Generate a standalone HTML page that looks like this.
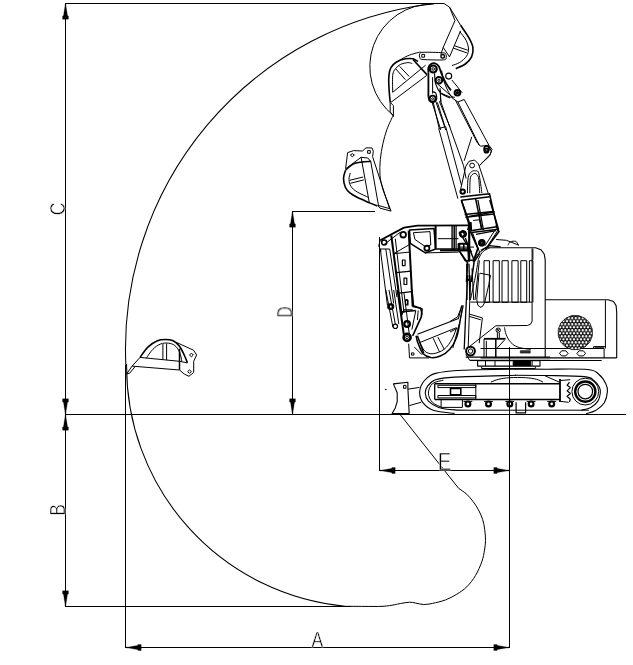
<!DOCTYPE html>
<html><head><meta charset="utf-8"><title>Working range</title>
<style>
html,body{margin:0;padding:0;background:#fff;}
svg{display:block}
text{font-family:"Liberation Sans",sans-serif;fill:#000;stroke:#fff;stroke-width:0.5px;paint-order:fill stroke}
.tx{filter:grayscale(1)}
</style></head><body>
<svg width="633" height="665" viewBox="0 0 633 665">
<rect width="633" height="665" fill="#fff"/>
<g fill="none" stroke="#000" stroke-width="1" stroke-linejoin="round" stroke-linecap="butt">
<path d="M65 3.5H444" stroke-width="1" shape-rendering="crispEdges"/>
<path d="M65.5 3V607" stroke-width="1" shape-rendering="crispEdges"/>
<path d="M65 414.5H626" stroke-width="1" shape-rendering="crispEdges"/>
<path d="M65 606.5H350.5" stroke-width="1" shape-rendering="crispEdges"/>
<path d="M125.5 365V648" stroke-width="1" shape-rendering="crispEdges"/>
<path d="M125 647.5H510" stroke-width="1" shape-rendering="crispEdges"/>
<path d="M509.5 347V648" stroke-width="1" shape-rendering="crispEdges"/>
<path d="M292.5 211V414" stroke-width="1" shape-rendering="crispEdges"/>
<path d="M292 211.5H375" stroke-width="1" shape-rendering="crispEdges"/>
<path d="M379.5 237V471" stroke-width="1" shape-rendering="crispEdges"/>
<path d="M379 470.5H510" stroke-width="1" shape-rendering="crispEdges"/>
<path d="M65.9 4L66.1 7L66.8 11L67.4 15.5L68.4 16L68.4 19.2L62.6 19.2L62.6 16L63.6 15.5L64.2 11L64.9 7L65.1 4Z" stroke-width="0.3" fill="#000"/>
<path d="M65.9 414L66.1 411L66.8 407L67.4 402.5L68.4 402L68.4 398.8L62.6 398.8L62.6 402L63.6 402.5L64.2 407L64.9 411L65.1 414Z" stroke-width="0.3" fill="#000"/>
<path d="M65.9 415L66.1 418L66.8 422L67.4 426.5L68.4 427L68.4 430.2L62.6 430.2L62.6 427L63.6 426.5L64.2 422L64.9 418L65.1 415Z" stroke-width="0.3" fill="#000"/>
<path d="M65.9 606L66.1 603L66.8 599L67.4 594.5L68.4 594L68.4 590.8L62.6 590.8L62.6 594L63.6 594.5L64.2 599L64.9 603L65.1 606Z" stroke-width="0.3" fill="#000"/>
<path d="M126 647.9L129 648.1L133 648.8L137.5 649.4L138 650.4L141.2 650.4L141.2 644.6L138 644.6L137.5 645.6L133 646.2L129 646.9L126 647.1Z" stroke-width="0.3" fill="#000"/>
<path d="M509 647.9L506 648.1L502 648.8L497.5 649.4L497 650.4L493.8 650.4L493.8 644.6L497 644.6L497.5 645.6L502 646.2L506 646.9L509 647.1Z" stroke-width="0.3" fill="#000"/>
<path d="M292.9 212L293.1 215L293.8 219L294.4 223.5L295.4 224L295.4 227.2L289.6 227.2L289.6 224L290.6 223.5L291.2 219L291.9 215L292.1 212Z" stroke-width="0.3" fill="#000"/>
<path d="M292.9 414L293.1 411L293.8 407L294.4 402.5L295.4 402L295.4 398.8L289.6 398.8L289.6 402L290.6 402.5L291.2 407L291.9 411L292.1 414Z" stroke-width="0.3" fill="#000"/>
<path d="M380 470.9L383 471.1L387 471.8L391.5 472.4L392 473.4L395.2 473.4L395.2 467.6L392 467.6L391.5 468.6L387 469.2L383 469.9L380 470.1Z" stroke-width="0.3" fill="#000"/>
<path d="M509 470.9L506 471.1L502 471.8L497.5 472.4L497 473.4L493.8 473.4L493.8 467.6L497 467.6L497.5 468.6L502 469.2L506 469.9L509 470.1Z" stroke-width="0.3" fill="#000"/>
<path d="M125.9 366A347.56 347.56 0 0 1 431.2 4" stroke-width="1.05"/>
<path d="M126.6 364A240.9 240.9 0 0 0 345 606.2" stroke-width="1.05"/>
<path d="M434 4A62.6 62.6 0 0 0 393.6 115.7L392.5 117" stroke-width="1"/>
<path d="M444 3.5L449.5 7.1L460.6 25.3"/>
<path d="M460.6 25.3C461.9 27.3 466.4 33.4 468.5 37.1C470.5 40.8 472.4 44.1 472.9 47.4C473.4 50.7 472.9 54.1 471.6 56.9C470.4 59.6 467.9 62 465.3 64C462.7 66 457.4 67.9 455.8 68.7" stroke-width="1.6"/>
<path d="M459.8 31.6C460.8 33 464.6 37.4 466.1 40.3C467.5 43.2 468.4 46.3 468.5 49C468.5 51.6 468 53.8 466.6 56.1C465.1 58.3 462.2 60.8 459.8 62.4C457.3 64 453.2 65 451.9 65.6"/>
<path d="M449.5 7.1L455 20.5L443.2 47.4L440.8 54.5"/>
<path d="M460.6 30.8L449.5 56.9"/>
<path d="M453.5 48.2L466.9 52.9"/>
<path d="M454.6 45.8L467.8 50.2"/>
<path d="M443.2 47.4L449.5 56.9"/>
<path d="M390.2 102.4C390 100 389.2 92.4 389 87.9C388.7 83.4 388.6 78.6 389 75.3C389.3 71.9 389.6 69.9 390.9 67.7C392.1 65.5 394.1 63.5 396.5 62C399 60.5 402.6 59.4 405.4 58.8C408.1 58.3 410.9 58.4 413 58.8C415.1 59.3 417.2 61 418 61.4" stroke-width="1.6"/>
<path d="M413 59.5L426.9 74.6" stroke-width="1.6"/>
<path d="M392.7 92.3C392.7 89.5 392.3 79.2 392.7 75.3C393.2 71.4 394 70.7 395.3 69C396.5 67.2 398.2 65.6 400.3 64.5C402.4 63.5 405.9 62.8 407.9 62.6C409.9 62.5 411.6 63.5 412.3 63.6"/>
<path d="M392.7 92.3L425.6 65.2"/>
<path d="M390.9 102.4L426.9 75.3"/>
<path d="M395.9 69L405.4 79.7"/>
<path d="M399.7 66.4L409.2 76.5"/>
<path d="M390.2 102.4L393.4 105.6L393.4 116.4L390.2 111.9Z"/>
<path d="M420.6 51.9C418.4 52.5 411.9 54 407.9 55.7C403.9 57.4 398.4 61 396.5 62"/>
<path d="M423.1 52.3C426.9 52.1 438.9 52.4 442.7 52.8C446.5 53.1 445.2 53.6 445.8 54.4C446.4 55.2 446.6 56.7 446.2 57.6C445.8 58.5 447.2 59.5 443.3 59.9C439.4 60.2 427 59.8 423.1 59.5C419.2 59.1 420.5 58.7 419.9 57.8C419.4 56.9 419.1 55 419.7 54C420.2 53.1 419.2 52.5 423.1 52.3Z"/>
<path d="M421.8 54.4L424.6 54.4L424.6 57.2L421.8 57.2Z"/>
<circle cx="442.7" cy="56.3" r="1.8" stroke-width="1.4"/>
<circle cx="433.2" cy="69" r="3.5" stroke-width="2.2"/>
<circle cx="433.2" cy="69" r="1.3"/>
<circle cx="438.9" cy="80.3" r="3.3" stroke-width="2"/>
<circle cx="438.9" cy="80.3" r="1.1"/>
<path d="M428.4 72.7L428.4 96.8" stroke-width="1.8"/>
<path d="M432.6 77.2L432.6 93.6"/>
<circle cx="432.6" cy="98.7" r="3" stroke-width="1.8"/>
<circle cx="432.6" cy="98.7" r="1"/>
<path d="M431.9 101.8L440.8 130"/>
<path d="M435.7 101.2L445.8 130"/>
<path d="M439.3 101.2L450 127.1"/>
<circle cx="448.7" cy="76.1" r="3" stroke-width="1.1"/>
<circle cx="457.4" cy="92.7" r="2.8" stroke-width="2"/>
<circle cx="457.4" cy="92.7" r="0.9" stroke-width="1.5"/>
<path d="M441.6 70.5C442 72.4 442.5 77.5 444 81.6C445.4 85.7 448.4 92.4 450.3 95C452.1 97.7 454.2 97 455 97.4"/>
<path d="M451.9 80L462.1 92.7"/>
<path d="M440 87.9L440.8 102.1"/>
<path d="M437.6 84L452.7 97.4"/>
<circle cx="486.6" cy="148.7" r="2.5" stroke-width="1.6"/>
<path d="M480.8 164L489.5 156.1L491.4 151.3L488.7 145.8"/>
<path d="M460.3 190.8L465.8 166.3L469 161.3L474.5 160L478.5 164L488.2 193.2"/>
<path d="M469.8 193.2C469.8 190.8 469.8 182.1 470.2 179C470.6 175.9 471.4 175.6 472.1 174.7C472.9 173.8 474 173.4 474.8 173.4C475.7 173.5 476.5 174.1 477.2 175C477.8 175.9 478.3 175.9 478.8 179C479.2 182 479.6 190.8 479.7 193.2"/>
<path d="M467.4 193.2C467.5 190.6 467.5 180.9 468.2 177.4C468.8 173.8 470.2 173 471.3 171.9C472.5 170.8 474.1 170.5 475.3 170.8C476.5 171 477.7 169.7 478.8 173.4C479.9 177.2 481.4 189.9 481.9 193.2"/>
<circle cx="472.1" cy="165.5" r="2.4"/>
<circle cx="462.7" cy="191.6" r="2.2" stroke-width="2"/>
<path d="M460.3 197.1L489.5 193.7L497.4 228.7" stroke-width="1.5"/>
<path d="M461.4 200.3L489.8 196.7" stroke-width="1.5"/>
<path d="M461.4 200.3L469 224.8" stroke-width="1.5"/>
<path d="M464.7 214.5L493 211.4" stroke-width="1.5"/>
<path d="M465.5 217.2L493.6 214" stroke-width="1.5"/>
<path d="M475.6 198.7L481.6 227.9" stroke-width="1.5"/>
<path d="M469 224.8L467.4 230"/>
<path d="M461.3 200L469.2 222.1" stroke-width="1.5"/>
<path d="M489.8 200L498.5 229.2" stroke-width="1.5"/>
<path d="M469.2 216.6L494.5 211.8" stroke-width="1.5"/>
<path d="M471.6 232.4L498.5 229.2" stroke-width="1.5"/>
<path d="M477.9 200L483.4 230" stroke-width="1.3"/>
<path d="M473.2 220.5L479.5 219.7L481.4 229.2"/>
<path d="M498.5 229.2L487.4 246.6L477.9 253.7L474 260"/>
<path d="M494.5 230.8L485 245.8"/>
<path d="M472.4 232.4L479.5 252.1"/>
<circle cx="481.9" cy="242.7" r="2.8" stroke-width="2"/>
<circle cx="481.9" cy="242.7" r="0.9"/>
<circle cx="462.1" cy="234.4" r="2.2" stroke-width="1.3"/>
<path d="M469.2 222.1L469.2 260" stroke-width="2.2"/>
<path d="M465.3 237.9L474 260" stroke-width="1.4"/>
<path d="M459 231.6L471.6 252.1" stroke-width="1.2"/>
<path d="M459.7 243.4L467.6 243.4L467.6 250.6L459.7 250.6Z" stroke-width="1.2"/>
<path d="M463.7 243.4L463.7 250.6"/>
<path d="M459.7 247.1L474 247.1"/>
<path d="M459 250.6L465.3 260.8L474 260" stroke-width="1.3"/>
<path d="M496.1 239.5L506.4 240.3L519 245.3"/>
<path d="M507.9 245.3C508.3 244.8 509 242.5 510.3 241.9C511.6 241.2 514.5 240.9 515.8 241.4C517.1 241.9 517.8 244.4 518.2 245"/>
<path d="M380.3 240.3L404 227.6L417.4 225.7L470 225.3" stroke-width="1.8"/>
<path d="M380.3 240.3L378.7 245.8L381.1 251.3"/>
<path d="M409.5 230L434 228.4L435.6 249L425.3 252.9L410.3 243.4Z" stroke-width="1.5"/>
<path d="M413.4 232.7L430 231.6L430.8 245L425.3 246.6L415 239.5Z"/>
<path d="M435.6 225.3L435.6 249" stroke-width="2"/>
<path d="M435.6 249L470 249" stroke-width="1.3"/>
<path d="M437.9 238.7L458.5 238.7"/>
<path d="M452.1 225.3L452.1 249" stroke-width="1.4"/>
<path d="M456.1 225.3L456.1 249" stroke-width="1.2"/>
<path d="M425.3 252.9L458.5 252.1"/>
<circle cx="384.2" cy="242.6" r="2.5" stroke-width="1.5"/>
<circle cx="403.2" cy="234.7" r="2.8" stroke-width="1.8"/>
<circle cx="426.9" cy="248.2" r="2.5" stroke-width="1.8"/>
<circle cx="390.5" cy="306.6" r="2.5" stroke-width="1.8"/>
<circle cx="463.2" cy="234" r="2.8" stroke-width="1.8"/>
<path d="M380.3 249L387.4 305"/>
<path d="M385.8 249L393.7 303.5"/>
<path d="M389.7 249L396.9 297.1"/>
<path d="M380.3 249L389.7 249"/>
<path d="M383.4 245L400 232.4"/>
<path d="M391.3 235.5L401.6 315" stroke-width="2"/>
<path d="M408.7 230.8L412.7 306.6" stroke-width="2"/>
<path d="M395.3 238.7L404 312.9" stroke-width="1"/>
<path d="M393.7 253.7L409.5 252.1"/>
<path d="M396.1 272.7L411.1 271.1" stroke-width="1.3"/>
<path d="M399.2 293.2L411.9 291.6" stroke-width="1.3"/>
<path d="M393.7 253.7L408.7 245"/>
<path d="M402.4 260L405.1 260L405.1 265.6L402.4 265.6Z" stroke-width="1.2"/>
<path d="M404 278.2L406.8 278.2L406.8 284.5L404 284.5Z" stroke-width="1.2"/>
<path d="M405.5 300.3L407.9 300.3L407.9 305L405.5 305Z" stroke-width="1.2"/>
<path d="M412.7 306.6L420.6 308.2L422.1 315" stroke-width="1.3"/>
<path d="M401.6 315L404 309.8L412.7 309.8" stroke-width="1.3"/>
<path d="M397.6 290L404 335.8" stroke-width="2"/>
<path d="M411.9 290L413.4 305.8L422.1 309L421.3 316.9L412.7 335.8" stroke-width="1.6"/>
<path d="M404 293.2L409.5 335.8" stroke-width="1"/>
<path d="M400.8 312.1L415.8 310.5" stroke-width="1.3"/>
<path d="M415.8 310.5L411.9 329.5"/>
<path d="M418.2 310.5L417.4 320"/>
<circle cx="391.3" cy="306.6" r="2.2" stroke-width="1.6"/>
<circle cx="395.3" cy="326.3" r="2.2" stroke-width="1.2"/>
<circle cx="407.1" cy="324" r="2.8" stroke-width="2.2"/>
<circle cx="407.1" cy="337.4" r="3.5" stroke-width="2.6"/>
<circle cx="407.1" cy="337.4" r="1.3"/>
<path d="M385.8 290L392.9 327.1"/>
<path d="M393.7 290L398.8 324"/>
<path d="M389 290L395.3 324"/>
<path d="M405.5 299.5L407.6 299.5L407.6 304.2L405.5 304.2Z"/>
<path d="M417.4 334.2L458.5 318.4L461.6 305.8L463.2 305.8L460 321.6" stroke-width="1.1"/>
<path d="M460 321.6C459.5 324.2 458.3 332.8 456.6 337.4C454.9 342 452.5 346.1 449.8 349.2C447.1 352.3 443.5 354.7 440.3 356C437.1 357.4 433.7 357.9 430.8 357.5C427.9 357 425.1 355.9 422.9 353.5C420.8 351.1 419 345.9 417.9 342.9C416.7 340 416.4 337 416.1 335.8" stroke-width="1.5"/>
<path d="M456.6 327.9C455.8 329.8 454.2 335.4 452.1 339C450.1 342.5 447.4 346.8 444.2 349.2C441.1 351.7 436.4 353.3 433.2 353.7C430 354.1 427.3 353.1 425.3 351.6C423.2 350.1 421.6 345.7 420.9 344.5"/>
<path d="M419 342.9L456.6 327.6"/>
<path d="M433.2 338.2L439.5 351.9"/>
<path d="M437.9 337.1L444.2 349.2"/>
<path d="M408.7 343.7L409.5 357.9L429.2 357.9"/>
<path d="M411.5 352.9L413.9 352.9L413.9 355.1L411.5 355.1Z"/>
<path d="M417.4 335.8L423.7 353.2" stroke-width="1.5"/>
<path d="M414.2 346.9L422.1 354.8"/>
<path d="M470.5 302.1L532.1 302.1"/>
<path d="M532.1 248.4L532.1 321.1L530.6 324.2L527.4 325.5L495.8 325.8"/>
<path d="M467.7 275.3L465.8 311.6L464.2 349.5" stroke-width="1.3"/>
<path d="M470.9 275.3L469.7 302.1L468.2 347.9"/>
<path d="M469 314L482.4 317.9L479.2 343.2"/>
<path d="M469 316.3L480.8 319.8"/>
<path d="M495.8 325.8L469.7 346.4"/>
<path d="M504.5 327.4C504.8 328.6 505 332 506.1 334.5C507.1 337 508.8 340.3 510.8 342.4C512.8 344.5 514.6 346 517.9 347.1C521.2 348.3 528.5 349.1 530.6 349.5"/>
<circle cx="498.2" cy="330.2" r="2.2"/>
<path d="M496.6 328.7L499.8 331.8"/>
<path d="M499.8 328.7L496.6 331.8"/>
<path d="M497.4 332.9L497.4 338.8"/>
<path d="M499.3 332.9L499.3 338.8"/>
<path d="M484 338.8L505.6 338.8" stroke-width="1.8"/>
<path d="M484 338.8L484 357.4"/>
<path d="M495.8 338.8L495.8 357.4" stroke-width="1.5"/>
<path d="M504.5 340L497.1 348.2"/>
<path d="M486.3 340.8L486.3 357.4"/>
<circle cx="470.5" cy="351.1" r="4.4" stroke-width="2"/>
<circle cx="470.5" cy="351.1" r="2.2"/>
<path d="M465.8 357.1L550 357.1" stroke-width="1.3"/>
<path d="M469.7 360.3L550 360.3" stroke-width="1.2"/>
<path d="M465.8 354.2L469.7 360.3"/>
<path d="M477.6 360.6L540 360.6L540 366.1L477.6 366.1Z" stroke-width="1.1"/>
<path d="M485.5 360.6L485.5 366.1"/>
<path d="M495 360.6L495 366.1"/>
<path d="M532.1 360.6L532.1 366.1"/>
<path d="M513.2 361.5L530.6 361.5L530.6 365.6L513.2 365.6Z" fill="#000"/>
<path d="M520.3 350.6L530.3 350.6L530.3 353.1L520.3 353.1Z" stroke-width="0.5" fill="#333"/>
<path d="M481.6 366.6L481.6 368.5L535.3 368.5L535.3 366.6"/>
<path d="M488 247.8L535.6 247.8L540.9 249.7L544.2 254L545.2 259.9L545.2 357.9" stroke-width="1.1"/>
<path d="M532.9 248.6L532.9 259.9"/>
<path d="M484 302.3L484 260.7L489.4 260.7L489.4 302.3L484 302.3"/>
<path d="M493.1 302.3L493.1 260.7L499.3 260.7L499.3 302.3L493.1 302.3"/>
<path d="M502 302.3L502 260.7L508.2 260.7L508.2 302.3L502 302.3"/>
<path d="M511.9 302.3L511.9 260.7L518.1 260.7L518.1 302.3L511.9 302.3"/>
<path d="M520.8 302.3L520.8 260.7L526.7 260.7L526.7 302.3L520.8 302.3"/>
<path d="M529.4 302.3L529.4 260.7L532.9 260.7L532.9 302.3"/>
<path d="M545.2 299.7L608.1 299.7L613.5 301.5L616.1 305.6L616.7 312.3L616.7 357.9" stroke-width="1.1"/>
<path d="M605.4 300.2L605.4 348.5"/>
<path d="M480.5 348.5L604.1 348.5L604.1 357.9"/>
<path d="M480.5 357.9L616.7 357.9" stroke-width="1.2"/>
<path d="M594.7 347.2L604.1 347.2"/>
<path d="M568.1 353.4L565.9 355.9L561.6 355.9L559.5 353.4L561.6 350.8L565.9 350.8Z"/>
<path d="M585.5 353.4L583.4 355.9L579.1 355.9L576.9 353.4L579.1 350.8L583.4 350.8Z"/>
<defs><pattern id="mesh" width="3.5" height="6.06" patternUnits="userSpaceOnUse"><rect width="3.5" height="6.06" fill="#000" stroke="none"/><g fill="#fff" stroke="none"><circle cx="0" cy="0" r="1.2"/><circle cx="3.5" cy="0" r="1.2"/><circle cx="1.75" cy="3.03" r="1.2"/><circle cx="0" cy="6.06" r="1.2"/><circle cx="3.5" cy="6.06" r="1.2"/></g></pattern></defs>
<path d="M592.3 336L589.7 342.2L584.9 347L578.6 349.6L571.9 349.6L565.6 347L560.8 342.2L558.3 336L558.3 329.2L560.8 323L565.6 318.2L571.9 315.6L578.6 315.6L584.9 318.2L589.7 323L592.3 329.2Z" stroke-width="0.8" fill="url(#mesh)"/>
<path d="M540 360.5L601.7 360.5"/>
<path d="M593.6 348L593.6 346.6L605.4 346.6"/>
<path d="M516.1 369.2C507.2 369.3 475.8 369.6 462.4 370.3C449 371 441.9 371.7 435.5 373.4C429.2 375.1 427.1 377.5 424.5 380.5C421.8 383.6 420 387.9 419.7 391.6C419.5 395.3 420.5 399.5 422.9 402.7C425.3 405.8 428.7 408.8 434 410.6C439.2 412.3 451.1 412.9 454.5 413.4" stroke-width="1.1"/>
<path d="M516.1 375.3C505.8 375.6 467.9 376.3 454.5 377.1C441.1 377.8 440 378.2 435.5 379.7C431.1 381.2 429.3 383.8 427.6 386.1C425.9 388.3 425.1 390.7 425.3 393.2C425.4 395.7 426.2 398.7 428.4 401.1C430.7 403.4 434.4 405.9 438.7 407.4C443 408.9 447.9 409.4 454.5 409.9C461.1 410.4 474.2 410.2 478.2 410.2" stroke-width="1.1"/>
<path d="M443.4 380.2C441.6 380.8 434.9 381.5 432.4 383.7C429.9 385.9 428.4 390.1 428.4 393.2C428.4 396.3 430.1 400 432.4 402.3C434.6 404.7 440.3 406.6 441.9 407.4"/>
<path d="M434.7 383.7L560.3 383.7" stroke-width="1.5"/>
<path d="M434.7 383.7L434.7 399.5" stroke-width="1.3"/>
<path d="M434.7 399.5L560.3 399.5" stroke-width="1.5"/>
<path d="M437.9 385.3L475.8 385.3L475.8 387.6L437.9 387.6Z"/>
<path d="M437.9 395.5L475.8 395.5L475.8 397.9L437.9 397.9Z"/>
<path d="M475.8 383.7L475.8 399.5"/>
<path d="M450.5 388.4L460.8 388.4L460.8 394.8L450.5 394.8Z" stroke-width="1.6"/>
<path d="M441.1 399.5L441.1 407.4L462.4 407.4L462.4 399.5"/>
<circle cx="467.9" cy="403.9" r="2.4" stroke-width="2.2"/>
<path d="M463.5 401.4L472.3 401.4"/>
<circle cx="488.5" cy="403.9" r="2.4" stroke-width="2.2"/>
<path d="M484 401.4L492.9 401.4"/>
<circle cx="509.8" cy="403.9" r="2.4" stroke-width="2.2"/>
<path d="M505.4 401.4L514.2 401.4"/>
<circle cx="531.1" cy="403.9" r="2.4" stroke-width="2.2"/>
<path d="M526.7 401.4L535.5 401.4"/>
<circle cx="551.7" cy="403.9" r="2.4" stroke-width="2.2"/>
<path d="M547.2 401.4L556.1 401.4"/>
<path d="M490.8 382.1C492.1 381.6 495.6 380 498.7 379.3C501.9 378.5 505.3 378 509.8 377.7C514.3 377.4 521.1 377.4 525.6 377.7C530.1 378 533.7 378.5 536.6 379.3C539.5 380 541.9 381.6 543 382.1"/>
<path d="M478.2 410.2L588.8 410.2" stroke-width="1.0"/>
<path d="M516.1 402.3L516.1 412.9L525.6 412.9L525.6 402.3" stroke-width="1.2"/>
<path d="M515 369.2C520.3 369.2 534.5 369.1 546.6 369.2C558.7 369.2 579 368.6 587.7 369.5C596.4 370.3 595.7 371.8 598.7 374.2C601.8 376.6 604.4 380.8 605.8 383.7C607.3 386.6 607.7 388.4 607.4 391.6C607.2 394.8 606.2 399.5 604.3 402.7C602.3 405.8 598.6 408.7 595.6 410.6C592.5 412.4 587.7 413.2 586.1 413.7" stroke-width="1.1"/>
<path d="M515 375.2C520.3 375.2 535 375.2 546.6 375.5C558.2 375.7 576.6 375.7 584.5 376.6C592.4 377.4 591.5 378.7 594 380.5C596.5 382.4 598.5 385.5 599.5 387.6C600.6 389.8 600.6 390.9 600.3 393.2C600 395.4 599.5 398.7 597.9 401.1C596.4 403.4 593.6 405.9 590.8 407.4C588.1 408.9 582.9 409.8 581.4 410.2" stroke-width="1.1"/>
<circle cx="585.3" cy="391.6" r="13.4" stroke-width="1.0"/>
<circle cx="585.3" cy="391.6" r="10.1" stroke-width="2.4"/>
<circle cx="585.3" cy="391.6" r="7.3" stroke-width="1.2"/>
<path d="M569.5 382.1L567.1 385.3L570.3 387.6L567.1 390.8L570.3 393.5L567.1 396.3L570.3 399.2L569.5 401.9" stroke-width="1.2"/>
<path d="M560 379L560 401.9" stroke-width="1.8"/>
<path d="M560.8 380.5L570.3 379.7"/>
<path d="M560.8 401.4L568.7 402.3"/>
<path d="M545 375.8L559.2 382.1"/>
<path d="M393.4 383.9L407.9 382.3L407.9 389L409.2 413.6L392.1 413.6L395.3 407.9L397.2 401.6L397.2 392.7Z" stroke-width="1.1"/>
<path d="M403.5 385.4L406 385.4L406 388.3L403.5 388.3Z"/>
<path d="M407.9 389.2L419.5 387.4"/>
<path d="M409.4 405.6L421.2 402.2"/>
<path d="M384.9 389.3L386.7 389.6"/>
<path d="M400.1 414.5L458.6 488.3" stroke-width="1"/>
<path d="M458.6 488.3C460 489.3 464.4 492.1 466.8 494.3C469.2 496.5 471.2 499.1 473.1 501.6C475 504.1 476.5 506.2 478.1 509.2C479.7 512.1 481.5 515.9 482.6 519.3C483.7 522.7 484.2 525.9 484.7 529.4C485.2 532.9 485.5 537 485.5 540.5C485.5 544 485.1 546.6 484.5 550.1C483.9 553.6 483.4 557.3 481.9 561.5C480.4 565.7 478.1 571.2 475.6 575.4C473.1 579.6 470 583.6 466.8 586.8C463.6 589.9 460.3 592.1 456.7 594.3C453.1 596.5 449.3 598.5 445.3 600C441.3 601.5 436.2 602.6 432.6 603.4C429 604.1 426.6 604.5 423.8 604.5C421 604.5 418.2 603.5 415.8 603.1C413.4 602.7 412 602.1 409.5 602.2C407 602.3 403.1 603.1 400.6 603.5C398.1 603.9 397.2 604.3 394.3 604.8C391.4 605.3 388.1 606 383 606.3C377.9 606.6 370.3 606.4 364 606.4C357.7 606.4 348.2 606.3 345 606.3" stroke-width="1"/>
<path d="M392.4 116.9C391.5 119 388.5 125 386.9 129.5C385.3 134 384 138.7 382.9 143.7C381.8 148.7 380.8 154.2 380.3 159.5C379.8 164.8 379.6 170.7 380 175.6C380.4 180.5 381.7 185 382.8 189.1C383.9 193.2 385.5 196.4 386.9 200C388.2 203.6 390.2 209 390.9 210.8"/>
<path d="M345.6 168.8L347.6 152.6L353.7 150.6L362.5 151L365.9 147.9L372 147.9L373.3 151.2L372.6 156.7L389.6 208.8"/>
<path d="M350.3 155L352.3 153.7L354.4 155L352.3 156.7Z"/>
<path d="M367.6 150.6L370.3 150.6L370.3 153.3L367.6 153.3Z"/>
<path d="M345.6 170.2C346.8 169.2 350.4 165.5 353 164.1C355.6 162.7 358.2 162.5 361.1 162.1C364.1 161.6 369 161.5 370.6 161.4" stroke-width="1.6"/>
<path d="M345.6 170.2C345.2 171.5 343.5 175.4 343.5 178.3C343.5 181.2 344.4 185.3 345.6 187.8C346.7 190.3 348.4 191.6 350.3 193.2C352.2 194.8 353.9 195.7 357.1 197.3C360.2 198.8 365.9 201.2 369.3 202.7C372.6 204.1 376 205.5 377.4 206.1" stroke-width="1.6"/>
<path d="M350.3 172.9C350.1 174 348.8 177.4 349 179.7C349.1 181.9 349.6 184.4 351 186.4C352.3 188.5 354.1 190 357.1 191.9C360 193.7 366.7 196.6 368.6 197.5"/>
<path d="M361.1 157.3L369.3 202.7"/>
<path d="M370.6 160.7L378.7 206.7"/>
<path d="M345.6 168.8L361.1 157.3L367.9 158L370.6 161.4"/>
<path d="M349.6 180.3L363.2 177"/>
<path d="M350.3 183.3L363.8 179.9"/>
<path d="M378.1 205.4L390.2 208.8L390.9 211.1L379.8 208.1Z"/>
<path d="M126.6 374L132.1 366.1L135.3 366.4L129.7 373.2Z"/>
<path d="M140 357.4C141.3 355.7 145 349.9 147.9 347.1C150.8 344.4 154.5 342.1 157.4 340.8C160.3 339.5 162.7 339.5 165.3 339.5C167.9 339.5 170.8 339.7 173.2 340.8C175.6 341.9 177.7 344 179.5 346.3C181.4 348.7 182.9 352.3 184.2 355C185.6 357.8 186.9 361.6 187.4 362.9" stroke-width="1.6"/>
<path d="M146.3 358.2C147.4 356.7 150.3 351.9 152.7 349.5C155 347.1 157.9 345 160.6 344C163.2 342.9 166.1 342.9 168.5 343.2C170.8 343.4 172.9 344.1 174.8 345.5C176.6 347 178.3 349.2 179.5 351.9C180.7 354.5 181.5 359.8 181.9 361.3"/>
<path d="M132.1 366.1L140 357.4L179.5 361.3L187.4 362.9"/>
<path d="M135.3 366.4L179.5 370"/>
<path d="M162.9 344L162.9 359.8"/>
<path d="M166.6 343.6L166.6 360.1"/>
<path d="M179.5 348.7L179.5 370" stroke-width="1.5"/>
<path d="M176.4 342.4L193.7 350.3L196.6 355L193.7 361.3L193.7 372.4L189 376.3L184.2 374L179.5 370"/>
<path d="M189.5 355L191.4 353.1L193.3 355L191.4 356.9Z"/>
<path d="M187.6 371.6L189.5 369.9L191.4 371.6L189.5 373.3Z"/>
<path d="M433.3 102.6L439 127.9"/>
<path d="M437.4 102.4L445 126.7"/>
<path d="M438.7 128.5L445.7 126.7"/>
<path d="M438.7 128.5L457.9 198.7"/>
<path d="M445.7 126.7L461.7 186.1"/>
<path d="M440.9 102L463.6 165.8L466.1 178.5"/>
<path d="M440.2 90L440.9 102"/>
<path d="M440.9 93.2L451.6 97.6L457.9 102"/>
<path d="M455.4 100.1L477.5 143.1L480.7 146.2L488.9 145.2"/>
<path d="M457.9 102L479.4 145.6"/>
<path d="M464.2 99.5L488.9 145.2L492 149.4L490.1 154.5L479.4 165.8"/>
<path d="M457.9 102L464.2 99.5"/>
<path d="M471.8 136.8L464.2 160.8"/>
<circle cx="486.4" cy="150.7" r="2.1" stroke-width="1.6"/>
<path d="M489.8 247.8C488.7 248.4 485 249.7 483.2 251.4C481.4 253.1 479.9 255.8 478.9 258C478 260.2 478.1 261.3 477.5 264.6C476.9 268 476.3 272 475.1 277.9C473.9 283.8 471.2 296.3 470.4 300"/>
<path d="M466.6 263.7L467.1 300"/>
<path d="M469 263.7L469.9 300" stroke-width="1.3"/>
<path d="M472 268.4L473.7 300"/>
<path d="M466.1 279.8L469 279.8" stroke-width="2"/>
<path d="M450 250L454.3 250" stroke-width="2"/>
<path d="M461.8 306.4L457.6 316.8L450 321.5"/>
<path d="M462.5 306.8L459.5 323.4L452.8 348.1"/>
<path d="M450 332L457.6 328.2"/>
<path d="M428.4 72.7C428.4 71.9 428 69.1 428.4 67.7C428.8 66.3 429.5 64.9 430.7 64.2C431.8 63.4 433.7 62.9 435.1 63.3C436.5 63.6 437.8 64.7 438.9 66.4C439.9 68.1 440.2 70.6 441.4 73.4C442.6 76.1 444.2 80 445.8 82.9C447.4 85.7 450 89.2 450.9 90.4" stroke-width="1.8"/>
<path d="M428.4 96.8C428.6 97.4 428.7 99.7 429.4 100.6C430.1 101.4 431.5 102.1 432.6 102.1C433.6 102.1 435 101.3 435.7 100.6C436.4 99.8 436.6 97.9 436.7 97.4" stroke-width="1.6"/>
<path d="M436.7 97.4C436.6 96.7 436.4 93.9 435.7 93C435 92 433.1 91.9 432.6 91.7" stroke-width="1.2"/>
<path d="M434.5 73.4C434.7 75.2 434.7 80.9 435.7 84.1C436.8 87.4 438.4 90.7 440.8 93C443.2 95.3 448.5 97.2 450 98" stroke-width="1.1"/>
<path d="M480 273.2L490.5 275.3L488.8 284.7L484.6 302.6L482.5 306.5L480 307.3L477.8 305L476.8 299.5L479 273"/>
<path d="M479.4 260.4L478 273L475 300"/>
<path d="M469.9 222L470.5 231.5" stroke-width="3.5"/>
<path d="M470.5 231.5L477.9 248.5L473.2 261.8" stroke-width="1.8"/>
<path d="M472.2 230.5L496.9 226.7" stroke-width="1.6"/>
<path d="M476 234.3L495.9 230.7" stroke-width="1.2"/>
<path d="M495.9 225.3L499 231.5L485.5 249.5" stroke-width="1.6"/>
<path d="M480.8 250.4L489.3 245.7L500.7 246.8" stroke-width="1.3"/>
<circle cx="481.7" cy="242.9" r="2.1" stroke-width="2.5"/>
<path d="M462.7 230.5L466.1 233.8L462.7 237.2L459.4 233.8Z" stroke-width="1.6"/>
<path d="M458.5 243.8L468.4 243.8L468.4 250.4L458.5 250.4Z" stroke-width="1.8"/>
<path d="M463.7 243.8L463.7 250.4" stroke-width="1.5"/>
<path d="M459 250.4L467.5 262.8L466.5 282" stroke-width="1.6"/>
<path d="M468.4 250.4L468.9 261.8" stroke-width="2"/>
<path d="M479.8 253.3L474.1 261.8L471.3 282" stroke-width="1.5"/>
<path d="M440 250.4L459 250.4" stroke-width="2"/>
<path d="M454.2 225.8L454.2 250.4" stroke-width="1.5"/>
</g>

<g font-size="22" class="tx">
<text transform="translate(317.3,647.4) scale(0.8,1)" text-anchor="middle">A</text>
<text transform="translate(65.1,510) rotate(-90) scale(0.8,1)" text-anchor="middle">B</text>
<text transform="translate(65.1,209) rotate(-90) scale(0.8,1)" text-anchor="middle">C</text>
<text transform="translate(292.2,312) rotate(-90) scale(0.7,1)" text-anchor="middle">D</text>
<text transform="translate(444.6,470.4) scale(0.92,1.05)" text-anchor="middle">E</text>
</g>

</svg>
</body></html>
